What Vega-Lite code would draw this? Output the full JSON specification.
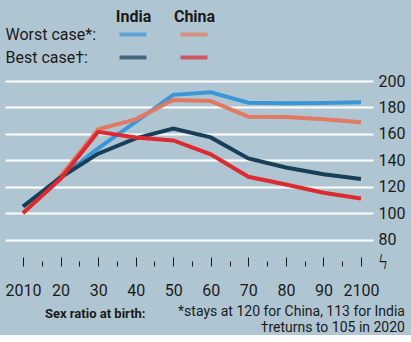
{
  "$schema": "https://vega.github.io/schema/vega-lite/v6.json",
  "background": "#afc6d2",
  "padding": {"left": 5, "top": 8, "right": 6, "bottom": 0},
  "spacing": 4,
  "columns": 1,
  "align": "none",
  "config": {
    "view": {"stroke": null},
    "font": "Roboto",
    "axis": {"labelColor": "#1a1a1a", "titleColor": "#1a1a1a"},
    "title": {"color": "#1a1a1a"}
  },
  "datasets": {
    "lines": [
      {"series": "India worst", "year": 2010, "value": 105},
      {"series": "India worst", "year": 2020, "value": 127},
      {"series": "India worst", "year": 2030, "value": 149},
      {"series": "India worst", "year": 2040, "value": 169},
      {"series": "India worst", "year": 2050, "value": 189.5},
      {"series": "India worst", "year": 2060, "value": 191.4},
      {"series": "India worst", "year": 2070, "value": 183.6},
      {"series": "India worst", "year": 2080, "value": 183.1},
      {"series": "India worst", "year": 2090, "value": 183.3},
      {"series": "India worst", "year": 2100, "value": 183.9},
      {"series": "China worst", "year": 2010, "value": 100},
      {"series": "China worst", "year": 2020, "value": 128},
      {"series": "China worst", "year": 2030, "value": 163.5},
      {"series": "China worst", "year": 2040, "value": 171},
      {"series": "China worst", "year": 2050, "value": 185.6},
      {"series": "China worst", "year": 2060, "value": 184.8},
      {"series": "China worst", "year": 2070, "value": 173},
      {"series": "China worst", "year": 2080, "value": 172.7},
      {"series": "China worst", "year": 2090, "value": 171},
      {"series": "China worst", "year": 2100, "value": 168.7},
      {"series": "India best", "year": 2010, "value": 105},
      {"series": "India best", "year": 2020, "value": 127},
      {"series": "India best", "year": 2030, "value": 145},
      {"series": "India best", "year": 2040, "value": 156.6},
      {"series": "India best", "year": 2050, "value": 164},
      {"series": "India best", "year": 2060, "value": 157.3},
      {"series": "India best", "year": 2070, "value": 141.4},
      {"series": "India best", "year": 2080, "value": 134.6},
      {"series": "India best", "year": 2090, "value": 129.5},
      {"series": "India best", "year": 2100, "value": 125.8},
      {"series": "China best", "year": 2010, "value": 100},
      {"series": "China best", "year": 2020, "value": 126},
      {"series": "China best", "year": 2030, "value": 161.5},
      {"series": "China best", "year": 2040, "value": 157.3},
      {"series": "China best", "year": 2050, "value": 155},
      {"series": "China best", "year": 2060, "value": 144.5},
      {"series": "China best", "year": 2070, "value": 127.5},
      {"series": "China best", "year": 2080, "value": 121.7},
      {"series": "China best", "year": 2090, "value": 115.4},
      {"series": "China best", "year": 2100, "value": 111.1}
    ],
    "legend": [
      {"series": "India worst", "country": "India", "case": "Worst case*:"},
      {"series": "China worst", "country": "China", "case": "Worst case*:"},
      {"series": "India best", "country": "India", "case": "Best case†:"},
      {"series": "China best", "country": "China", "case": "Best case†:"}
    ]
  },
  "concat": [
    {
      "width": 317,
      "height": 46,
      "data": {"name": "legend"},
      "mark": {"type": "tick", "orient": "horizontal", "thickness": 4, "size": 27},
      "encoding": {
        "x": {
          "field": "country", "type": "nominal", "sort": ["India", "China"],
          "scale": {"type": "point", "range": [128, 189], "padding": 0},
          "axis": {"orient": "top", "title": null, "domain": false, "ticks": false, "labelAngle": 0,
                   "labelFontWeight": "bold", "labelFontSize": 16, "labelPadding": -1}
        },
        "y": {
          "field": "case", "type": "nominal", "sort": ["Worst case*:", "Best case†:"],
          "scale": {"type": "point", "padding": 0.5},
          "axis": {"title": null, "domain": false, "ticks": false, "labelAlign": "left",
                   "labelFontSize": 16, "labelPadding": 0}
        },
        "color": {
          "field": "series", "type": "nominal",
          "scale": {"domain": ["India worst", "China worst", "India best", "China best"],
                    "range": ["#3a96d4", "#e27a63", "#173f58", "#dc2a30"]},
          "legend": null
        }
      }
    },
    {
      "width": 368,
      "height": 185,
      "title": {
        "text": ["*stays at 120 for China, 113 for India", "†returns to 105 in 2020"],
        "orient": "bottom", "anchor": "end", "frame": "bounds",
        "fontSize": 14, "fontWeight": "normal", "lineHeight": 16, "offset": -15
      },
      "layer": [
        {
          "data": {"name": "lines"},
          "mark": {"type": "line", "strokeWidth": 4},
          "encoding": {
            "x": {
              "field": "year", "type": "quantitative",
              "scale": {"domain": [2005.2, 2103.2], "nice": false},
              "axis": {
                "values": [2010, 2015, 2020, 2025, 2030, 2035, 2040, 2045, 2050, 2055, 2060, 2065, 2070, 2075, 2080, 2085, 2090, 2095, 2100],
                "tickCount": 100,
                "grid": false, "domain": false,
                "tickColor": "#1a1a1a", "tickWidth": 1,
                "tickSize": {"condition": {"test": "datum.value % 10 === 0", "value": -9}, "value": -5},
                "labelExpr": "datum.value % 10 !== 0 ? '' : (datum.value === 2010 || datum.value === 2100) ? ('' + datum.value) : substring('' + datum.value, 2)",
                "labelFontSize": 16, "labelPadding": 25, "labelFlush": false, "labelOverlap": false, "labelBound": false,
                "title": "Sex ratio at birth:", "titleFontSize": 13, "titleFontWeight": "bold",
                "titleAlign": "right", "titleAnchor": null, "titleX": 140, "titleY": 51, "titleBaseline": "alphabetic"
              }
            },
            "y": {
              "field": "value", "type": "quantitative",
              "scale": {"domain": [60, 200], "nice": false, "zero": false},
              "axis": {
                "orient": "right", "values": [63, 80, 100, 120, 140, 160, 180, 200],
                "tickCount": 100,
                "title": null, "domain": false, "ticks": false,
                "grid": true, "gridWidth": 2,
                "gridColor": {"condition": {"test": "datum.value < 70", "value": "transparent"}, "value": "#ffffff"},
                "labelExpr": "datum.value < 70 ? 'ϟ' : datum.label",
                "labelFontSize": {"condition": {"test": "datum.value < 70", "value": 20}, "value": 16},
                "labelAlign": "left", "labelPadding": 5, "labelOverlap": false
              }
            },
            "color": {
              "field": "series", "type": "nominal",
              "scale": {"domain": ["India worst", "China worst", "India best", "China best"],
                        "range": ["#3a96d4", "#e27a63", "#173f58", "#dc2a30"]},
              "legend": null
            }
          }
        },
        {
          "mark": {"type": "rule", "color": "#1a1a1a", "strokeWidth": 1},
          "encoding": {
            "x": {"datum": 2005.5},
            "x2": {"datum": 2100},
            "y": {"datum": 60}
          }
        }
      ]
    }
  ]
}
